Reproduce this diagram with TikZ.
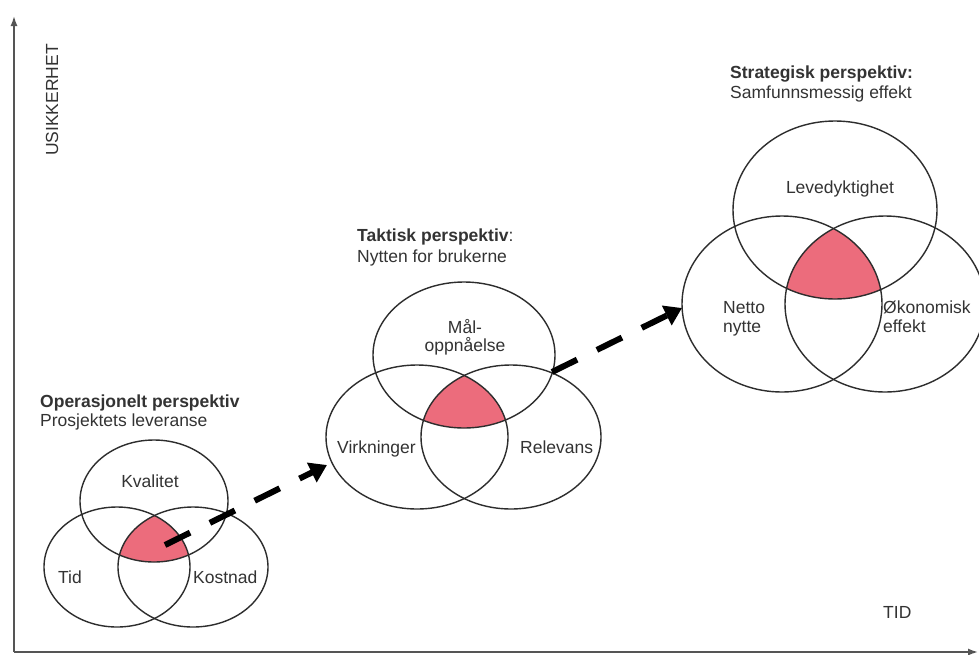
\documentclass[tikz,border=0pt]{standalone}
\usepackage{fontspec}
\setmainfont{Liberation Sans}
\usetikzlibrary{arrows.meta,shapes.geometric}
\definecolor{pinkc}{RGB}{236,108,124}
\definecolor{txtc}{RGB}{51,51,51}
\definecolor{linec}{RGB}{45,45,45}
\definecolor{axisc}{RGB}{85,85,85}
\begin{document}
\begin{tikzpicture}[x=1pt,y=-1pt,
  font=\fontsize{17.5}{21}\selectfont,
  every node/.style={text=txtc, inner sep=0pt},
  venn/.style={draw=linec, line width=1.4pt, ellipse, inner sep=0pt, outer sep=0pt},
  lbl/.style={anchor=base},
  lblw/.style={anchor=base west},
  ttl/.style={anchor=base west, font=\fontsize{17.5}{21}\selectfont\bfseries},
  dasharrow/.style={draw=black, line width=6pt, dash pattern=on 28pt off 22pt, -{Triangle[length=17pt,width=21pt]}},
  axisline/.style={draw=axisc, line width=1.5pt, -{Latex[length=10pt,width=7pt]}}]
\useasboundingbox (0,0) rectangle (979,654);
\fill[white] (0,0) rectangle (979,654);

% axes
\coordinate (origin) at (14,652);
\coordinate (ytip) at (14,16);
\coordinate (xtip) at (978,652);
\draw[axisline] (origin) -- (ytip);
\draw[axisline] (origin) -- (xtip);
\node[rotate=90] (usik) at (52,100) {USIKKERHET};
\node[lblw] (tid) at (883,618) {TID};

% pink intersections
\begin{scope}
  \clip (154,501) ellipse [x radius=74pt, y radius=61pt];
  \clip (117,567) ellipse [x radius=73pt, y radius=60pt];
  \fill[pinkc] (193,567) ellipse [x radius=75pt, y radius=60pt];
\end{scope}
\begin{scope}
  \clip (464,355) ellipse [x radius=91pt, y radius=73pt];
  \clip (417,437) ellipse [x radius=91pt, y radius=72pt];
  \fill[pinkc] (511,437) ellipse [x radius=90pt, y radius=72pt];
\end{scope}
\begin{scope}
  \clip (835,210) ellipse [x radius=102pt, y radius=89pt];
  \clip (782,304) ellipse [x radius=100pt, y radius=88pt];
  \fill[pinkc] (885,304) ellipse [x radius=100pt, y radius=88pt];
\end{scope}

% operational
\node[venn, minimum width=148pt, minimum height=122pt] (kval) at (154,501) {};
\node[venn, minimum width=146pt, minimum height=120pt] (tidc) at (117,567) {};
\node[venn, minimum width=150pt, minimum height=120pt] (kost) at (193,567) {};
\node[ttl] (optitle) at (40,407) {Operasjonelt perspektiv};
\node[lblw] (opsub) at (40,426) {Prosjektets leveranse};
\node[lbl] (kvall) at (150,487) {Kvalitet};
\node[lblw] (tidl) at (58,583) {Tid};
\node[lblw] (kostl) at (193,583) {Kostnad};

% tactical
\node[venn, minimum width=182pt, minimum height=146pt] (mal) at (464,355) {};
\node[venn, minimum width=182pt, minimum height=144pt] (virk) at (417,437) {};
\node[venn, minimum width=180pt, minimum height=144pt] (rel) at (511,437) {};
\node[anchor=base west] (taktitle) at (357,241) {\bfseries Taktisk perspektiv\mdseries:};
\node[lblw] (taksub) at (357,262) {Nytten for brukerne};
\node[lbl] (mall1) at (465,333) {Mål-};
\node[lbl] (mall2) at (465,351) {oppnåelse};
\node[lblw] (virkl) at (337,453) {Virkninger};
\node[lblw] (rell) at (520,453) {Relevans};

% strategic
\node[venn, minimum width=204pt, minimum height=178pt] (leve) at (835,210) {};
\node[venn, minimum width=200pt, minimum height=176pt] (netto) at (782,304) {};
\node[venn, minimum width=200pt, minimum height=176pt] (okon) at (885,304) {};
\node[ttl] (strtitle) at (730,78) {Strategisk perspektiv:};
\node[lblw] (strsub) at (730,98) {Samfunnsmessig effekt};
\node[lbl] (level) at (840,193) {Levedyktighet};
\node[lblw] (nettol1) at (723,313) {Netto};
\node[lblw] (nettol2) at (723,332) {nytte};
\node[lblw] (okonl1) at (883,313) {Økonomisk};
\node[lblw] (okonl2) at (883,332) {effekt};

% dashed arrows
\coordinate (a1s) at (165,545);
\coordinate (a1e) at (327,465);
\coordinate (a2s) at (552,372);
\coordinate (a2e) at (682,308);
\draw[dasharrow] (a1s) -- (a1e);
\draw[dasharrow] (a2s) -- (a2e);
\end{tikzpicture}
\end{document}
